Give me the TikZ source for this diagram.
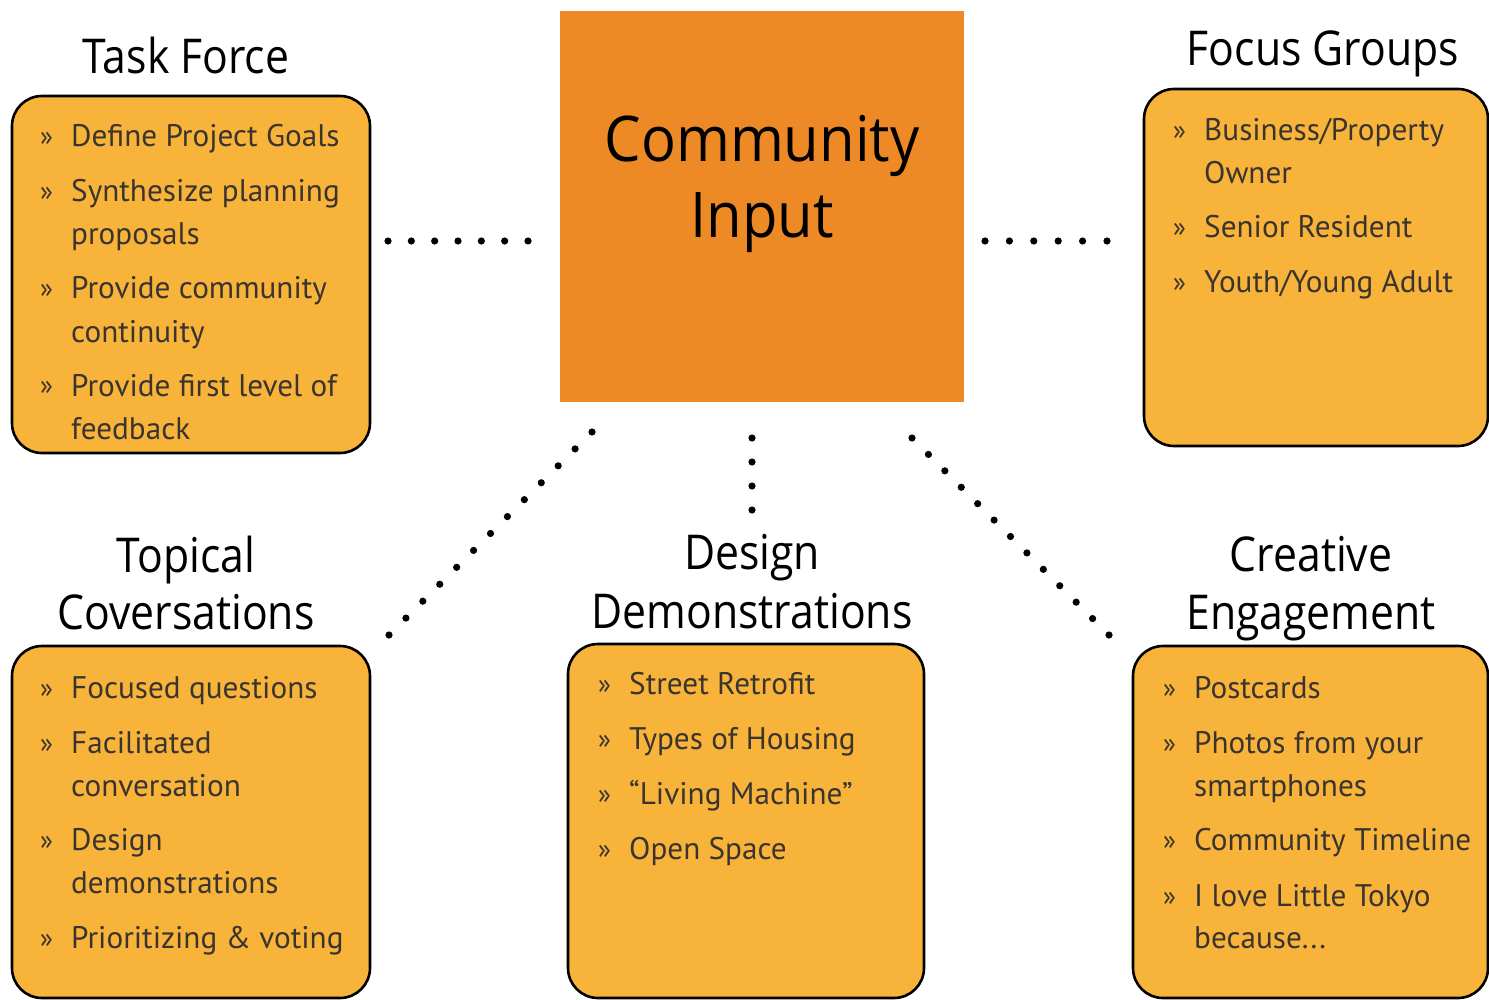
\documentclass[tikz,border=0pt]{standalone}
\usepackage{fontspec}
\setmainfont{PT Sans}
\newfontfamily\headfont{Open Sans}
\definecolor{boxfill}{HTML}{F8B43A}
\definecolor{centerfill}{HTML}{EE8A25}
\definecolor{itemtext}{HTML}{3A342E}
\newcommand\narrow[2]{\scalebox{#1}[1]{#2}}
\tikzset{
  panel/.style={draw=black, line width=2.6pt, fill=boxfill, rounded corners=30pt},
  hub/.style={fill=centerfill},
  ttl/.style={inner sep=0pt, font=\headfont\fontsize{48}{48}\selectfont, text=black, anchor=base},
  hubtxt/.style={inner sep=0pt, font=\headfont\fontsize{63}{63}\selectfont, text=black, anchor=base},
  itx/.style={inner sep=0pt, font=\fontsize{31.2}{31.2}\selectfont, text=itemtext, anchor=base west},
  bul/.style={inner sep=0pt, font=\fontsize{27}{27}\selectfont, text=itemtext, anchor=base west},
  dotline/.style={fill=black}
}
\newcommand\bitem[4]{\node[bul] (#1b) at (#2-31,#3-1) {»}; \node[itx] (#1) at (#2,#3) {#4};}
\newcommand\citem[4]{\node[itx] (#1) at (#2,#3) {#4};}
\newcommand\dotrow[5]{\foreach \k in {0,...,#5} {\fill[dotline] ($(#1,#2)!\k/#5!(#3,#4)$) circle (3.6pt);}}
\usetikzlibrary{calc}
\begin{document}
\begin{tikzpicture}[x=1pt,y=-1pt]
\useasboundingbox (0,0) rectangle (1489,1000);
\fill[white] (0,0) rectangle (1489,1000);
% hub
\node[hub, minimum width=404pt, minimum height=391pt, inner sep=0pt] (hub) at (762,206.5) {};
\node[hubtxt] (hubA) at (762,162) {\narrow{0.92}{Community}};
\node[hubtxt] (hubB) at (762,238) {\narrow{0.92}{Input}};
% panels
\draw[panel] (12,96) rectangle (370,453); \coordinate (tfbox) at (191,274);
\draw[panel] (1144,89) rectangle (1488,446); \coordinate (fgbox) at (1316,267);
\draw[panel] (12,646) rectangle (370,998); \coordinate (tcbox) at (191,822);
\draw[panel] (568,644) rectangle (924,998); \coordinate (ddbox) at (746,821);
\draw[panel] (1133,646) rectangle (1488,998); \coordinate (cebox) at (1310,822);
% titles
\node[ttl] (tfT) at (186,74) {\narrow{0.89}{Task Force}};
\node[ttl] (fgT) at (1323,66) {\narrow{0.89}{Focus Groups}};
\node[ttl] (tcT1) at (186,572) {\narrow{0.89}{Topical}};
\node[ttl] (tcT2) at (186,629) {\narrow{0.89}{Coversations}};
\node[ttl] (ddT1) at (752,569) {\narrow{0.89}{Design}};
\node[ttl] (ddT2) at (752,628) {\narrow{0.89}{Demonstrations}};
\node[ttl] (ceT1) at (1311,571) {\narrow{0.89}{Creative}};
\node[ttl] (ceT2) at (1311,629) {\narrow{0.89}{Engagement}};
% Task Force items
\bitem{tf1}{71}{147}{Define Project Goals}
\bitem{tf2}{71}{202}{Synthesize planning}
\citem{tf2b}{71}{245}{proposals}
\bitem{tf3}{71}{299}{Provide community}
\citem{tf3b}{71}{342}{continuity}
\bitem{tf4}{71}{396}{Provide first level of}
\citem{tf4b}{71}{439}{feedback}
% Focus Groups items
\bitem{fg1}{1204}{141}{Business/Property}
\citem{fg1b}{1204}{184}{Owner}
\bitem{fg2}{1204}{238}{Senior Resident}
\bitem{fg3}{1204}{293}{Youth/Young Adult}
% Topical items
\bitem{tc1}{71}{698}{Focused questions}
\bitem{tc2}{71}{753}{Facilitated}
\citem{tc2b}{71}{796}{conversation}
\bitem{tc3}{71}{850}{Design}
\citem{tc3b}{71}{893}{demonstrations}
\bitem{tc4}{71}{948}{Prioritizing \& voting}
% Design items
\bitem{dd1}{629}{694}{Street Retrofit}
\bitem{dd2}{629}{749}{Types of Housing}
\bitem{dd3}{629}{804}{“Living Machine”}
\bitem{dd4}{629}{859}{Open Space}
% Creative items
\bitem{ce1}{1194}{698}{Postcards}
\bitem{ce2}{1194}{753}{Photos from your}
\citem{ce2b}{1194}{796}{smartphones}
\bitem{ce3}{1194}{850}{Community Timeline}
\bitem{ce4}{1194}{906}{I love Little Tokyo}
\citem{ce4b}{1194}{948}{because...}
% dotted connectors
\dotrow{388}{241}{528}{241}{6}
\dotrow{985}{241}{1107}{241}{5}
\dotrow{752}{438}{752}{510}{3}
\dotrow{592}{432}{389}{635}{12}
\dotrow{912}{438}{1109}{635}{12}
\end{tikzpicture}
\end{document}
